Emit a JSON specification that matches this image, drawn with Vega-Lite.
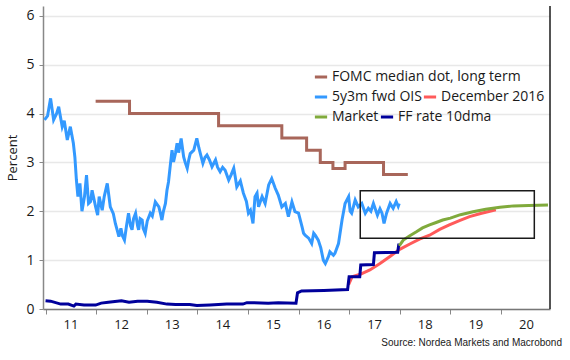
{
  "$schema": "https://vega.github.io/schema/vega-lite/v6.json",
  "width": 507,
  "height": 303,
  "autosize": "none",
  "padding": {"left": 43, "top": 6, "right": 20, "bottom": 51},
  "background": "white",
  "config": {"font": "Open Sans", "view": {"stroke": null},
    "legend": {"orient": "none", "title": null, "direction": "horizontal", "symbolType": "stroke", "symbolStrokeWidth": 3, "symbolSize": 150, "labelFontSize": 14, "labelColor": "#1a1a1a", "labelOffset": 3, "labelLimit": 400, "padding": 0, "columnPadding": -8}},
  "title": {"text": "Source: Nordea Markets and Macrobond", "orient": "bottom", "anchor": "end", "frame": "group", "fontSize": 10, "font": "Liberation Sans", "fontWeight": "normal", "color": "#1a1a1a", "offset": 7, "dx": 12},
  "resolve": {"scale": {"color": "independent"}, "legend": {"color": "independent"}},
  "datasets": {
    "box": [{"year": 2017.22, "yearEnd": 2020.66, "value": 1.45, "valueEnd": 2.42}],
    "fomc": [
      {"series": "FOMC median dot, long term", "year": 2011.99, "value": 4.25},
      {"series": "FOMC median dot, long term", "year": 2012.66, "value": 4.0},
      {"series": "FOMC median dot, long term", "year": 2014.42, "value": 3.75},
      {"series": "FOMC median dot, long term", "year": 2015.67, "value": 3.5},
      {"series": "FOMC median dot, long term", "year": 2016.16, "value": 3.25},
      {"series": "FOMC median dot, long term", "year": 2016.43, "value": 3.0},
      {"series": "FOMC median dot, long term", "year": 2016.68, "value": 2.875},
      {"series": "FOMC median dot, long term", "year": 2016.92, "value": 3.0},
      {"series": "FOMC median dot, long term", "year": 2017.68, "value": 2.75},
      {"series": "FOMC median dot, long term", "year": 2018.16, "value": 2.75}
    ],
    "lines": [
      {"series": "5y3m fwd OIS", "year": 2010.98, "value": 3.87},
      {"series": "5y3m fwd OIS", "year": 2011.04, "value": 3.95},
      {"series": "5y3m fwd OIS", "year": 2011.10, "value": 4.31},
      {"series": "5y3m fwd OIS", "year": 2011.16, "value": 3.87},
      {"series": "5y3m fwd OIS", "year": 2011.22, "value": 4.00},
      {"series": "5y3m fwd OIS", "year": 2011.26, "value": 4.14},
      {"series": "5y3m fwd OIS", "year": 2011.33, "value": 3.73},
      {"series": "5y3m fwd OIS", "year": 2011.37, "value": 3.85},
      {"series": "5y3m fwd OIS", "year": 2011.43, "value": 3.46},
      {"series": "5y3m fwd OIS", "year": 2011.49, "value": 3.73},
      {"series": "5y3m fwd OIS", "year": 2011.55, "value": 3.39},
      {"series": "5y3m fwd OIS", "year": 2011.58, "value": 3.11},
      {"series": "5y3m fwd OIS", "year": 2011.61, "value": 2.64},
      {"series": "5y3m fwd OIS", "year": 2011.64, "value": 2.30},
      {"series": "5y3m fwd OIS", "year": 2011.68, "value": 2.57},
      {"series": "5y3m fwd OIS", "year": 2011.72, "value": 2.00},
      {"series": "5y3m fwd OIS", "year": 2011.77, "value": 2.30},
      {"series": "5y3m fwd OIS", "year": 2011.81, "value": 2.74},
      {"series": "5y3m fwd OIS", "year": 2011.85, "value": 2.16},
      {"series": "5y3m fwd OIS", "year": 2011.89, "value": 2.20},
      {"series": "5y3m fwd OIS", "year": 2011.92, "value": 2.43},
      {"series": "5y3m fwd OIS", "year": 2011.99, "value": 2.09},
      {"series": "5y3m fwd OIS", "year": 2012.03, "value": 1.92},
      {"series": "5y3m fwd OIS", "year": 2012.06, "value": 2.30},
      {"series": "5y3m fwd OIS", "year": 2012.12, "value": 2.02},
      {"series": "5y3m fwd OIS", "year": 2012.16, "value": 2.30},
      {"series": "5y3m fwd OIS", "year": 2012.22, "value": 2.57},
      {"series": "5y3m fwd OIS", "year": 2012.28, "value": 2.09},
      {"series": "5y3m fwd OIS", "year": 2012.34, "value": 1.95},
      {"series": "5y3m fwd OIS", "year": 2012.38, "value": 1.75},
      {"series": "5y3m fwd OIS", "year": 2012.42, "value": 1.60},
      {"series": "5y3m fwd OIS", "year": 2012.45, "value": 1.48},
      {"series": "5y3m fwd OIS", "year": 2012.49, "value": 1.65},
      {"series": "5y3m fwd OIS", "year": 2012.52, "value": 1.50},
      {"series": "5y3m fwd OIS", "year": 2012.56, "value": 1.41},
      {"series": "5y3m fwd OIS", "year": 2012.60, "value": 1.70},
      {"series": "5y3m fwd OIS", "year": 2012.64, "value": 1.96},
      {"series": "5y3m fwd OIS", "year": 2012.68, "value": 1.70},
      {"series": "5y3m fwd OIS", "year": 2012.71, "value": 1.62},
      {"series": "5y3m fwd OIS", "year": 2012.74, "value": 1.85},
      {"series": "5y3m fwd OIS", "year": 2012.78, "value": 1.96},
      {"series": "5y3m fwd OIS", "year": 2012.82, "value": 1.70},
      {"series": "5y3m fwd OIS", "year": 2012.84, "value": 1.62},
      {"series": "5y3m fwd OIS", "year": 2012.87, "value": 1.85},
      {"series": "5y3m fwd OIS", "year": 2012.91, "value": 1.82},
      {"series": "5y3m fwd OIS", "year": 2012.93, "value": 1.65},
      {"series": "5y3m fwd OIS", "year": 2012.97, "value": 1.55},
      {"series": "5y3m fwd OIS", "year": 2013.01, "value": 1.80},
      {"series": "5y3m fwd OIS", "year": 2013.07, "value": 1.96},
      {"series": "5y3m fwd OIS", "year": 2013.11, "value": 1.90},
      {"series": "5y3m fwd OIS", "year": 2013.17, "value": 2.19},
      {"series": "5y3m fwd OIS", "year": 2013.24, "value": 2.09},
      {"series": "5y3m fwd OIS", "year": 2013.27, "value": 1.96},
      {"series": "5y3m fwd OIS", "year": 2013.30, "value": 1.82},
      {"series": "5y3m fwd OIS", "year": 2013.33, "value": 2.00},
      {"series": "5y3m fwd OIS", "year": 2013.37, "value": 2.16},
      {"series": "5y3m fwd OIS", "year": 2013.40, "value": 2.43},
      {"series": "5y3m fwd OIS", "year": 2013.43, "value": 2.60},
      {"series": "5y3m fwd OIS", "year": 2013.47, "value": 2.98},
      {"series": "5y3m fwd OIS", "year": 2013.50, "value": 3.25},
      {"series": "5y3m fwd OIS", "year": 2013.53, "value": 3.01},
      {"series": "5y3m fwd OIS", "year": 2013.57, "value": 3.20},
      {"series": "5y3m fwd OIS", "year": 2013.60, "value": 3.39},
      {"series": "5y3m fwd OIS", "year": 2013.63, "value": 3.20},
      {"series": "5y3m fwd OIS", "year": 2013.68, "value": 3.49},
      {"series": "5y3m fwd OIS", "year": 2013.73, "value": 3.11},
      {"series": "5y3m fwd OIS", "year": 2013.76, "value": 3.00},
      {"series": "5y3m fwd OIS", "year": 2013.80, "value": 2.88},
      {"series": "5y3m fwd OIS", "year": 2013.83, "value": 3.05},
      {"series": "5y3m fwd OIS", "year": 2013.86, "value": 3.18},
      {"series": "5y3m fwd OIS", "year": 2013.93, "value": 3.25},
      {"series": "5y3m fwd OIS", "year": 2013.99, "value": 3.49},
      {"series": "5y3m fwd OIS", "year": 2014.03, "value": 3.30},
      {"series": "5y3m fwd OIS", "year": 2014.06, "value": 3.18},
      {"series": "5y3m fwd OIS", "year": 2014.11, "value": 2.98},
      {"series": "5y3m fwd OIS", "year": 2014.15, "value": 3.10},
      {"series": "5y3m fwd OIS", "year": 2014.19, "value": 3.15},
      {"series": "5y3m fwd OIS", "year": 2014.24, "value": 3.05},
      {"series": "5y3m fwd OIS", "year": 2014.29, "value": 2.91},
      {"series": "5y3m fwd OIS", "year": 2014.36, "value": 3.05},
      {"series": "5y3m fwd OIS", "year": 2014.40, "value": 2.90},
      {"series": "5y3m fwd OIS", "year": 2014.45, "value": 2.81},
      {"series": "5y3m fwd OIS", "year": 2014.50, "value": 2.90},
      {"series": "5y3m fwd OIS", "year": 2014.55, "value": 2.84},
      {"series": "5y3m fwd OIS", "year": 2014.62, "value": 2.64},
      {"series": "5y3m fwd OIS", "year": 2014.67, "value": 2.75},
      {"series": "5y3m fwd OIS", "year": 2014.72, "value": 2.88},
      {"series": "5y3m fwd OIS", "year": 2014.75, "value": 2.70},
      {"series": "5y3m fwd OIS", "year": 2014.78, "value": 2.50},
      {"series": "5y3m fwd OIS", "year": 2014.85, "value": 2.62},
      {"series": "5y3m fwd OIS", "year": 2014.91, "value": 2.37},
      {"series": "5y3m fwd OIS", "year": 2014.97, "value": 2.20},
      {"series": "5y3m fwd OIS", "year": 2015.01, "value": 1.96},
      {"series": "5y3m fwd OIS", "year": 2015.05, "value": 2.02},
      {"series": "5y3m fwd OIS", "year": 2015.10, "value": 1.75},
      {"series": "5y3m fwd OIS", "year": 2015.14, "value": 2.30},
      {"series": "5y3m fwd OIS", "year": 2015.18, "value": 2.37},
      {"series": "5y3m fwd OIS", "year": 2015.21, "value": 2.09},
      {"series": "5y3m fwd OIS", "year": 2015.28, "value": 2.30},
      {"series": "5y3m fwd OIS", "year": 2015.34, "value": 2.16},
      {"series": "5y3m fwd OIS", "year": 2015.41, "value": 2.54},
      {"series": "5y3m fwd OIS", "year": 2015.47, "value": 2.67},
      {"series": "5y3m fwd OIS", "year": 2015.54, "value": 2.47},
      {"series": "5y3m fwd OIS", "year": 2015.60, "value": 2.33},
      {"series": "5y3m fwd OIS", "year": 2015.67, "value": 2.09},
      {"series": "5y3m fwd OIS", "year": 2015.74, "value": 2.16},
      {"series": "5y3m fwd OIS", "year": 2015.80, "value": 1.89},
      {"series": "5y3m fwd OIS", "year": 2015.87, "value": 2.19},
      {"series": "5y3m fwd OIS", "year": 2015.93, "value": 1.99},
      {"series": "5y3m fwd OIS", "year": 2016.00, "value": 1.96},
      {"series": "5y3m fwd OIS", "year": 2016.07, "value": 1.68},
      {"series": "5y3m fwd OIS", "year": 2016.10, "value": 1.55},
      {"series": "5y3m fwd OIS", "year": 2016.13, "value": 1.51},
      {"series": "5y3m fwd OIS", "year": 2016.20, "value": 1.45},
      {"series": "5y3m fwd OIS", "year": 2016.26, "value": 1.34},
      {"series": "5y3m fwd OIS", "year": 2016.30, "value": 1.55},
      {"series": "5y3m fwd OIS", "year": 2016.33, "value": 1.51},
      {"series": "5y3m fwd OIS", "year": 2016.39, "value": 1.41},
      {"series": "5y3m fwd OIS", "year": 2016.44, "value": 1.25},
      {"series": "5y3m fwd OIS", "year": 2016.49, "value": 1.00},
      {"series": "5y3m fwd OIS", "year": 2016.53, "value": 0.93},
      {"series": "5y3m fwd OIS", "year": 2016.59, "value": 1.07},
      {"series": "5y3m fwd OIS", "year": 2016.62, "value": 1.17},
      {"series": "5y3m fwd OIS", "year": 2016.69, "value": 1.10},
      {"series": "5y3m fwd OIS", "year": 2016.72, "value": 1.14},
      {"series": "5y3m fwd OIS", "year": 2016.79, "value": 1.34},
      {"series": "5y3m fwd OIS", "year": 2016.86, "value": 1.82},
      {"series": "5y3m fwd OIS", "year": 2016.92, "value": 2.16},
      {"series": "5y3m fwd OIS", "year": 2016.99, "value": 2.30},
      {"series": "5y3m fwd OIS", "year": 2017.02, "value": 2.00},
      {"series": "5y3m fwd OIS", "year": 2017.05, "value": 1.96},
      {"series": "5y3m fwd OIS", "year": 2017.12, "value": 2.23},
      {"series": "5y3m fwd OIS", "year": 2017.18, "value": 2.09},
      {"series": "5y3m fwd OIS", "year": 2017.25, "value": 2.16},
      {"series": "5y3m fwd OIS", "year": 2017.32, "value": 1.96},
      {"series": "5y3m fwd OIS", "year": 2017.38, "value": 2.06},
      {"series": "5y3m fwd OIS", "year": 2017.43, "value": 2.00},
      {"series": "5y3m fwd OIS", "year": 2017.48, "value": 2.16},
      {"series": "5y3m fwd OIS", "year": 2017.56, "value": 1.92},
      {"series": "5y3m fwd OIS", "year": 2017.61, "value": 2.05},
      {"series": "5y3m fwd OIS", "year": 2017.65, "value": 1.96},
      {"series": "5y3m fwd OIS", "year": 2017.69, "value": 1.75},
      {"series": "5y3m fwd OIS", "year": 2017.74, "value": 1.96},
      {"series": "5y3m fwd OIS", "year": 2017.81, "value": 2.16},
      {"series": "5y3m fwd OIS", "year": 2017.87, "value": 2.06},
      {"series": "5y3m fwd OIS", "year": 2017.93, "value": 2.20},
      {"series": "5y3m fwd OIS", "year": 2017.97, "value": 2.10},
      {"series": "5y3m fwd OIS", "year": 2017.99, "value": 2.16},
      {"series": "FF rate 10dma", "year": 2011.00, "value": 0.17},
      {"series": "FF rate 10dma", "year": 2011.10, "value": 0.16},
      {"series": "FF rate 10dma", "year": 2011.30, "value": 0.10},
      {"series": "FF rate 10dma", "year": 2011.45, "value": 0.10},
      {"series": "FF rate 10dma", "year": 2011.56, "value": 0.06},
      {"series": "FF rate 10dma", "year": 2011.60, "value": 0.10},
      {"series": "FF rate 10dma", "year": 2011.76, "value": 0.08},
      {"series": "FF rate 10dma", "year": 2011.99, "value": 0.08},
      {"series": "FF rate 10dma", "year": 2012.10, "value": 0.12},
      {"series": "FF rate 10dma", "year": 2012.24, "value": 0.14},
      {"series": "FF rate 10dma", "year": 2012.50, "value": 0.17},
      {"series": "FF rate 10dma", "year": 2012.65, "value": 0.14},
      {"series": "FF rate 10dma", "year": 2012.82, "value": 0.16},
      {"series": "FF rate 10dma", "year": 2013.01, "value": 0.16},
      {"series": "FF rate 10dma", "year": 2013.20, "value": 0.14},
      {"series": "FF rate 10dma", "year": 2013.40, "value": 0.10},
      {"series": "FF rate 10dma", "year": 2013.57, "value": 0.09},
      {"series": "FF rate 10dma", "year": 2013.85, "value": 0.09},
      {"series": "FF rate 10dma", "year": 2013.99, "value": 0.07},
      {"series": "FF rate 10dma", "year": 2014.25, "value": 0.08},
      {"series": "FF rate 10dma", "year": 2014.58, "value": 0.10},
      {"series": "FF rate 10dma", "year": 2014.90, "value": 0.10},
      {"series": "FF rate 10dma", "year": 2014.98, "value": 0.13},
      {"series": "FF rate 10dma", "year": 2015.40, "value": 0.12},
      {"series": "FF rate 10dma", "year": 2015.60, "value": 0.13},
      {"series": "FF rate 10dma", "year": 2015.95, "value": 0.12},
      {"series": "FF rate 10dma", "year": 2015.98, "value": 0.33},
      {"series": "FF rate 10dma", "year": 2016.06, "value": 0.37},
      {"series": "FF rate 10dma", "year": 2016.50, "value": 0.38},
      {"series": "FF rate 10dma", "year": 2016.97, "value": 0.40},
      {"series": "FF rate 10dma", "year": 2017.00, "value": 0.66},
      {"series": "FF rate 10dma", "year": 2017.21, "value": 0.66},
      {"series": "FF rate 10dma", "year": 2017.23, "value": 0.90},
      {"series": "FF rate 10dma", "year": 2017.48, "value": 0.91},
      {"series": "FF rate 10dma", "year": 2017.50, "value": 1.15},
      {"series": "FF rate 10dma", "year": 2017.96, "value": 1.16},
      {"series": "FF rate 10dma", "year": 2017.98, "value": 1.31},
      {"series": "FF rate 10dma", "year": 2017.99, "value": 1.31},
      {"series": "December 2016", "year": 2016.99, "value": 0.50},
      {"series": "December 2016", "year": 2017.06, "value": 0.66},
      {"series": "December 2016", "year": 2017.22, "value": 0.71},
      {"series": "December 2016", "year": 2017.41, "value": 0.80},
      {"series": "December 2016", "year": 2017.61, "value": 0.93},
      {"series": "December 2016", "year": 2017.80, "value": 1.07},
      {"series": "December 2016", "year": 2018.00, "value": 1.22},
      {"series": "December 2016", "year": 2018.20, "value": 1.33},
      {"series": "December 2016", "year": 2018.39, "value": 1.43},
      {"series": "December 2016", "year": 2018.59, "value": 1.51},
      {"series": "December 2016", "year": 2018.79, "value": 1.63},
      {"series": "December 2016", "year": 2018.98, "value": 1.72},
      {"series": "December 2016", "year": 2019.18, "value": 1.81},
      {"series": "December 2016", "year": 2019.38, "value": 1.89},
      {"series": "December 2016", "year": 2019.58, "value": 1.95},
      {"series": "December 2016", "year": 2019.78, "value": 2.00},
      {"series": "December 2016", "year": 2019.90, "value": 2.03},
      {"series": "Market", "year": 2017.99, "value": 1.29},
      {"series": "Market", "year": 2018.07, "value": 1.41},
      {"series": "Market", "year": 2018.20, "value": 1.50},
      {"series": "Market", "year": 2018.33, "value": 1.58},
      {"series": "Market", "year": 2018.45, "value": 1.66},
      {"series": "Market", "year": 2018.59, "value": 1.72},
      {"series": "Market", "year": 2018.72, "value": 1.77},
      {"series": "Market", "year": 2018.85, "value": 1.82},
      {"series": "Market", "year": 2019.00, "value": 1.86},
      {"series": "Market", "year": 2019.20, "value": 1.93},
      {"series": "Market", "year": 2019.45, "value": 1.99},
      {"series": "Market", "year": 2019.70, "value": 2.04},
      {"series": "Market", "year": 2019.98, "value": 2.08},
      {"series": "Market", "year": 2020.25, "value": 2.11},
      {"series": "Market", "year": 2020.55, "value": 2.12},
      {"series": "Market", "year": 2020.93, "value": 2.13}
    ]
  },
  "layer": [
    {
      "data": {"name": "fomc"},
      "mark": {"type": "line", "interpolate": "step-after", "strokeWidth": 3},
      "encoding": {
        "x": {"field": "year", "type": "quantitative", "title": null,
          "scale": {"domain": [2010.95, 2020.97], "nice": false, "zero": false},
          "axis": {"values": [2011, 2012, 2013, 2014, 2015, 2016, 2017, 2018, 2019, 2020], "labelExpr": "format(datum.value % 100, 'd')", "labelOffset": 25, "labelFlush": false, "labelOverlap": false, "tickSize": 5, "tickColor": "#888888", "domainColor": "#777777", "domainWidth": 1.5, "labelFontSize": 13, "labelColor": "#1a1a1a", "labelPadding": 4, "grid": false}},
        "y": {"field": "value", "type": "quantitative", "title": "Percent",
          "scale": {"domain": [0, 6.2], "nice": false},
          "axis": {"values": [0, 1, 2, 3, 4, 5, 6], "tickSize": 4, "tickColor": "#888888", "domainColor": "#888888", "domainWidth": 1.5, "grid": true, "gridColor": "#e8e8e8", "gridWidth": 1.5, "labelFontSize": 14, "labelColor": "#1a1a1a", "labelPadding": 5, "titleFontSize": 13, "titleFontWeight": "normal", "titleColor": "#1a1a1a", "titlePadding": 6}},
        "color": {"field": "series", "type": "nominal",
          "scale": {"domain": ["FOMC median dot, long term"], "range": ["#a8665a"]},
          "legend": {"legendX": 270, "legendY": 63}}
      }
    },
    {
      "data": {"name": "lines"},
      "transform": [{"filter": {"field": "series", "oneOf": ["5y3m fwd OIS", "December 2016"]}}],
      "mark": {"type": "line", "strokeWidth": 3},
      "encoding": {
        "x": {"field": "year", "type": "quantitative", "title": null},
        "y": {"field": "value", "type": "quantitative", "title": "Percent"},
        "color": {"field": "series", "type": "nominal",
          "scale": {"domain": ["5y3m fwd OIS", "December 2016"], "range": ["#3399ff", "#ff5a5a"]},
          "legend": {"legendX": 270, "legendY": 83}}
      }
    },
    {
      "data": {"name": "lines"},
      "transform": [{"filter": {"field": "series", "oneOf": ["Market", "FF rate 10dma"]}}],
      "mark": {"type": "line", "strokeWidth": 3},
      "encoding": {
        "x": {"field": "year", "type": "quantitative", "title": null},
        "y": {"field": "value", "type": "quantitative", "title": "Percent"},
        "color": {"field": "series", "type": "nominal",
          "scale": {"domain": ["Market", "FF rate 10dma"], "range": ["#80aa3c", "#00009b"]},
          "legend": {"legendX": 270, "legendY": 103}}
      }
    },
    {
      "data": {"name": "box"},
      "mark": {"type": "rect", "fill": "transparent", "stroke": "#1a1a1a", "strokeWidth": 1.5},
      "encoding": {
        "x": {"field": "year", "type": "quantitative", "title": null},
        "x2": {"field": "yearEnd"},
        "y": {"field": "value", "type": "quantitative", "title": "Percent"},
        "y2": {"field": "valueEnd"}
      }
    },
    {
      "data": {"values": [{}]},
      "mark": {"type": "rule", "color": "#1a1a1a", "strokeWidth": 1.5},
      "encoding": {"x": {"datum": 2020.97, "type": "quantitative"}}
    }
  ]
}
